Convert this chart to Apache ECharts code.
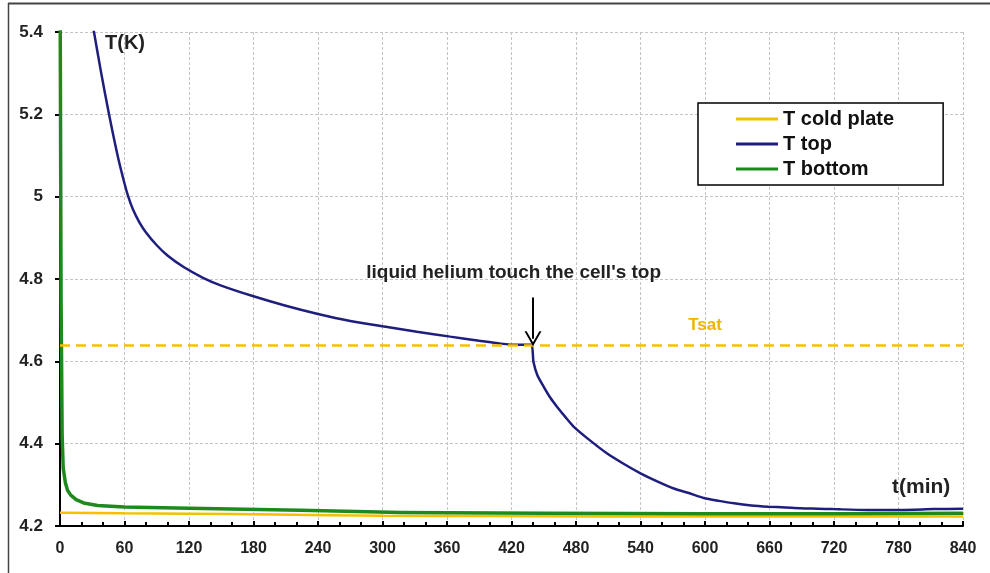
<!DOCTYPE html>
<html>
<head>
<meta charset="utf-8">
<script src="https://cdn.jsdelivr.net/npm/echarts@6/dist/echarts.min.js"></script>
<style>
  html, body { margin: 0; padding: 0; background: #fff; }
  #chart { width: 990px; height: 573px; }
</style>
</head>
<body>
<div id="chart"></div>
<script>
  // T cold plate
  var coldT = [0, 60, 120, 200, 300, 400, 500, 600, 700, 840]
  var coldV = [4.232, 4.231, 4.23, 4.228, 4.225, 4.224, 4.223, 4.223, 4.223, 4.223]

  // T top
  var topT = [25, 31.6, 38, 45.6, 54, 60, 63.5, 68, 74, 80, 90, 100, 115, 133, 150, 180, 210, 240, 270, 300, 332, 363, 390, 410, 425, 438,
    440.5, 444, 450, 456, 462.5, 470, 478, 493, 509, 525, 540, 555, 571, 585, 599, 613, 627, 643, 659, 675, 689, 705, 719, 751, 782, 813, 840]
  var topV = [5.50, 5.40, 5.305, 5.20, 5.095, 5.032, 5.0, 4.968, 4.937, 4.913, 4.882, 4.857, 4.829, 4.803, 4.784, 4.758, 4.735, 4.715, 4.698, 4.685, 4.672, 4.66, 4.65, 4.643, 4.64, 4.64,
    4.598, 4.567, 4.538, 4.512, 4.489, 4.465, 4.441, 4.408, 4.376, 4.35, 4.328, 4.309, 4.291, 4.28, 4.268, 4.261, 4.255, 4.25, 4.247, 4.245, 4.243, 4.242, 4.241, 4.239, 4.239, 4.241, 4.242]

  // T bottom
  var bottomT = [0, 1, 2, 3, 5, 7, 10, 15, 22, 35, 60, 120, 224, 317, 450, 600, 720, 840]
  var bottomV = [5.6, 4.75, 4.42, 4.34, 4.305, 4.287, 4.275, 4.264, 4.256, 4.25, 4.246, 4.243, 4.238, 4.233, 4.231, 4.23, 4.23, 4.231]

  var TSAT = 4.64
  var touchT = 440          // where liquid helium reaches the top
  var xTicks = { min: 0, max: 840, step: 60 }
  var yTicks = { min: 4.2, max: 5.4, step: 0.2 }

  function pairs (xs, ys) {
    var out = []
    for (var i = 0; i < xs.length; i++) out.push([xs[i], ys[i]])
    return out
  }

  var font = '"Liberation Sans", Arial, sans-serif'
  var gold = '#F5C000'
  var navy = '#1E1E7E'
  var green = '#1E8A1E'

  var myChart = echarts.init(document.getElementById('chart'))

  var option = {
    backgroundColor: '#fff',
    animation: false,
    textStyle: { fontFamily: font },
    grid: { left: 60, right: 27, top: 32, bottom: 47 },
    legend: {
      orient: 'vertical',
      left: 698,
      top: 103,
      padding: [6, 49, 6, 38],
      itemGap: 5,
      itemWidth: 42,
      itemHeight: 3,
      icon: 'rect',
      borderColor: '#000',
      borderWidth: 1.5,
      backgroundColor: '#fff',
      textStyle: { fontSize: 20, fontWeight: 'bold', color: '#111', fontFamily: font },
      data: ['T cold plate', 'T top', 'T bottom']
    },
    graphic: [
      { type: 'line', shape: { x1: 8, y1: 3.5, x2: 990, y2: 3.5 }, style: { stroke: '#444', lineWidth: 2 } },
      { type: 'line', shape: { x1: 8.5, y1: 3, x2: 8.5, y2: 573 }, style: { stroke: '#444', lineWidth: 1.5 } },
      { type: 'text', left: 105, top: 33, style: { text: 'T(K)', fontSize: 20, fontWeight: 'bold', fill: '#222', fontFamily: font } },
      { type: 'text', left: 892, top: 477, style: { text: 't(min)', fontSize: 21, fontWeight: 'bold', fill: '#222', fontFamily: font } }
    ],
    xAxis: {
      type: 'value',
      min: xTicks.min,
      max: xTicks.max,
      interval: xTicks.step,
      axisLine: { lineStyle: { color: '#000', width: 2 } },
      axisTick: { inside: true, length: 5, lineStyle: { color: '#000', width: 2 } },
      minorTick: { show: true, splitNumber: 3, length: 4, lineStyle: { color: '#000', width: 2 } },
      axisLabel: { fontSize: 16, fontWeight: 'bold', color: '#222', margin: 15 },
      splitLine: { show: true, lineStyle: { color: '#c4c4c4', type: [3, 2], width: 1 } }
    },
    yAxis: {
      type: 'value',
      min: yTicks.min,
      max: yTicks.max,
      interval: yTicks.step,
      axisLine: { show: true, lineStyle: { color: '#000', width: 2 } },
      axisTick: { show: true, length: 5, lineStyle: { color: '#000', width: 2 } },
      axisLabel: { fontSize: 17, fontWeight: 'bold', color: '#222', margin: 17 },
      splitLine: { show: true, lineStyle: { color: '#c4c4c4', type: [3, 2], width: 1 } }
    },
    series: [{
      name: 'T cold plate',
      type: 'line',
      showSymbol: false,
      smooth: 0.3,
      data: pairs(coldT, coldV),
      lineStyle: { color: gold, width: 2.5 },
      itemStyle: { color: gold },
      z: 2,
      markLine: {
        silent: true,
        symbol: ['none', 'none'],
        label: { show: false },
        lineStyle: { color: gold, type: [10, 6], width: 2.5 },
        data: [{ yAxis: TSAT }]
      },
      markPoint: {
        silent: true,
        symbol: 'rect',
        symbolSize: 1,
        itemStyle: { color: 'rgba(0,0,0,0)' },
        label: { show: true, position: 'top', distance: 11, formatter: 'Tsat', fontSize: 17, fontWeight: 'bold', color: '#F0B400' },
        data: [{ coord: [600, TSAT] }]
      }
    }, {
      name: 'T bottom',
      type: 'line',
      showSymbol: false,
      smooth: false,
      data: pairs(bottomT, bottomV),
      lineStyle: { color: green, width: 3.5, join: 'round' },
      itemStyle: { color: green },
      z: 3
    }, {
      name: 'T top',
      type: 'line',
      showSymbol: false,
      smooth: 0.25,
      data: pairs(topT, topV),
      lineStyle: { color: navy, width: 2.5 },
      itemStyle: { color: navy },
      z: 4,
      markLine: {
        silent: true,
        symbol: ['none', 'path://M10,0 L20,13 L17.5,13 L10,3.5 L2.5,13 L0,13 Z'],
        symbolSize: [17, 15],
        label: { show: false },
        lineStyle: { color: '#000', type: 'solid', width: 2 },
        data: [[{ coord: [touchT, 4.755] }, { coord: [touchT, 4.655] }]]
      },
      markPoint: {
        silent: true,
        symbol: 'rect',
        symbolSize: 1,
        itemStyle: { color: 'rgba(0,0,0,0)' },
        label: {
          show: true,
          position: 'inside',
          formatter: "liquid helium touch the cell's top",
          fontSize: 19,
          fontWeight: 'bold',
          color: '#222'
        },
        data: [{ coord: [422, 4.816] }]
      }
    }]
  }
  myChart.setOption(option)
</script>
</body>
</html>
